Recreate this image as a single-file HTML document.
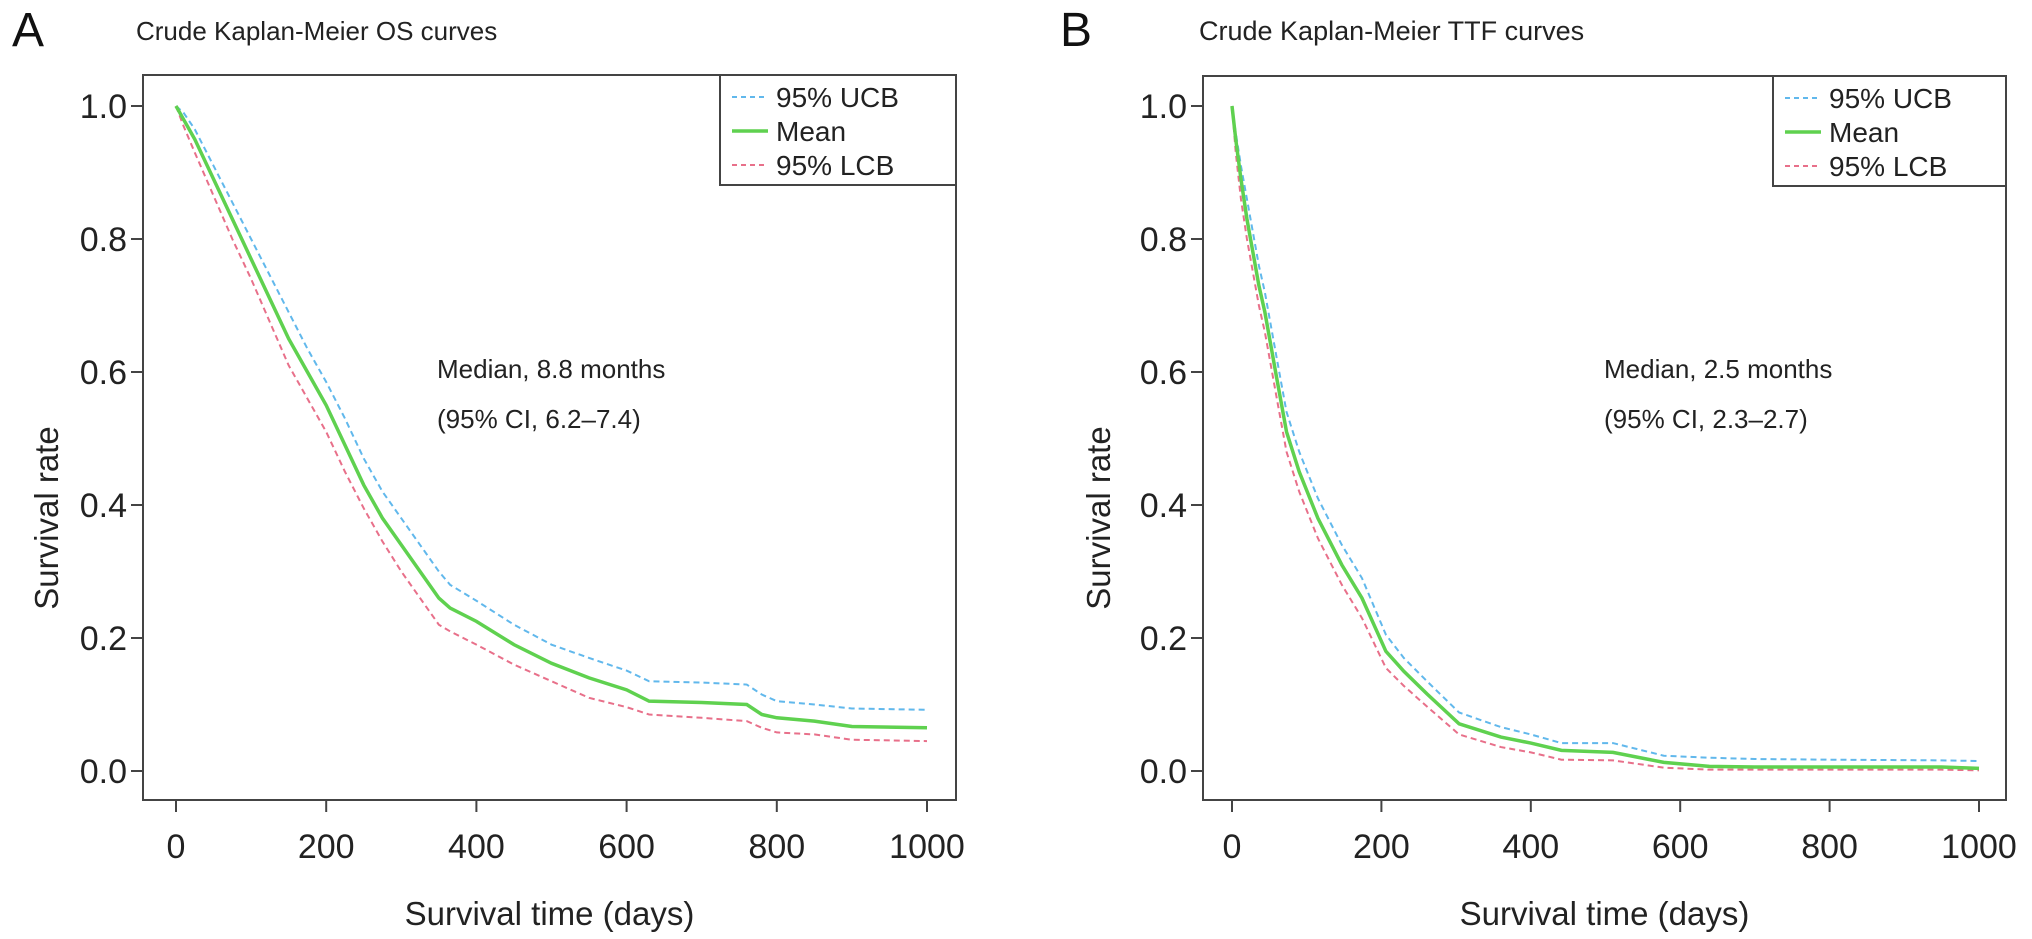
<!DOCTYPE html>
<html><head><meta charset="utf-8"><style>
html,body{margin:0;padding:0;background:#fff;}
svg{display:block;font-family:"Liberation Sans",Arial,sans-serif;}
</style></head><body>
<svg id="fig" width="2032" height="939" viewBox="0 0 2032 939"></svg>
<script>
// Panel A data (days, survival)
const daysA = [0,10,25,50,75,100,125,150,175,200,225,250,275,300,325,350,365,400,450,500,550,600,630,700,760,780,800,850,900,1000];
const meanA = [1,0.98,0.95,0.89,0.83,0.77,0.71,0.65,0.60,0.55,0.49,0.43,0.38,0.34,0.30,0.26,0.245,0.225,0.19,0.162,0.14,0.122,0.105,0.103,0.10,0.085,0.08,0.075,0.067,0.065];
const ucbA = [1,0.99,0.965,0.91,0.855,0.80,0.745,0.69,0.635,0.585,0.53,0.47,0.42,0.38,0.34,0.30,0.28,0.256,0.22,0.19,0.17,0.151,0.135,0.133,0.13,0.115,0.105,0.10,0.094,0.092];
const lcbA = [1,0.97,0.93,0.865,0.80,0.74,0.675,0.61,0.56,0.51,0.45,0.395,0.345,0.30,0.26,0.22,0.21,0.19,0.16,0.135,0.11,0.096,0.085,0.08,0.075,0.065,0.058,0.055,0.047,0.045];
// Panel B data
const daysB = [0,5,12,20,28,36,44,52,60,73,90,115,147,174,206,230,261,304,360,400,441,510,578,639,700,800,950,1000];
const meanB = [1,0.95,0.89,0.83,0.78,0.73,0.69,0.64,0.59,0.51,0.45,0.38,0.31,0.26,0.18,0.15,0.116,0.071,0.051,0.042,0.031,0.028,0.013,0.007,0.006,0.006,0.006,0.004];
const ucbB = [1,0.96,0.91,0.86,0.81,0.76,0.72,0.67,0.62,0.54,0.48,0.41,0.34,0.29,0.205,0.17,0.135,0.088,0.066,0.055,0.042,0.042,0.023,0.02,0.018,0.017,0.016,0.015];
const lcbB = [1,0.93,0.86,0.80,0.75,0.70,0.66,0.61,0.56,0.48,0.42,0.35,0.28,0.23,0.155,0.128,0.097,0.055,0.036,0.028,0.017,0.016,0.005,0.002,0.002,0.002,0.002,0.001];
const xTicks = [0,200,400,600,800,1000];
const yTicks = [0,0.2,0.4,0.6,0.8,1.0];
const yTickLabels = ["0.0","0.2","0.4","0.6","0.8","1.0"];
const legendLabels = ["95% UCB","Mean","95% LCB"];

const NS="http://www.w3.org/2000/svg";
const svg=document.getElementById('fig');
function mk(tag,attrs,parent,text){const e=document.createElementNS(NS,tag);for(const k in attrs)e.setAttribute(k,attrs[k]);if(text!==undefined)e.textContent=text;(parent||svg).appendChild(e);return e;}

const C_U="#61b8ec", C_M="#5fd14f", C_L="#e8708a";

function panel(p){
  const g=mk('g',{});
  
  
  const sx=d=>p.x0+(d/1000)*(p.x1-p.x0);
  const sy=v=>p.y0+v*(p.y1-p.y0);
  const lbl=mk('text',{x:p.lx,y:46,'font-size':48,fill:'#111'},g,p.id);
  
  
  const t=mk('text',{x:p.tx,y:40,'font-size':p.tfs,fill:'#222'},g,p.title);
  
  
  const box=mk('rect',{x:p.bl,y:p.bt,width:p.br-p.bl,height:p.bb-p.bt,fill:'none',stroke:'#444','stroke-width':2},g);
  
  
  const xa=mk('g',{},g);
  
  
  mk('line',{x1:sx(xTicks[0]),x2:sx(xTicks[xTicks.length-1]),y1:p.bb,y2:p.bb,stroke:'#444','stroke-width':2},xa);
  xTicks.forEach(v=>{
    mk('line',{x1:sx(v),x2:sx(v),y1:p.bb,y2:p.bb+12,stroke:'#444','stroke-width':2},xa);
    const tl=mk('text',{x:sx(v),y:p.bb+58,'font-size':34,'text-anchor':'middle',fill:'#222'},xa,String(v));
    
    
  });
  const xt=mk('text',{x:(p.bl+p.br)/2,y:925,'font-size':33,'text-anchor':'middle',fill:'#222'},g,'Survival time (days)');
  
  
  const ya=mk('g',{},g);
  
  
  yTicks.forEach((v,i)=>{
    mk('line',{x1:p.bl,x2:p.bl-12,y1:sy(v),y2:sy(v),stroke:'#444','stroke-width':2},ya);
    const tl=mk('text',{x:p.bl-16,y:sy(v)+12,'font-size':34,'text-anchor':'end',fill:'#222'},ya,yTickLabels[i]);
    
    
  });
  const yc=518;
  const yt=mk('text',{x:p.ylx,y:yc,'font-size':33,'text-anchor':'middle',fill:'#222',transform:`rotate(-90 ${p.ylx} ${yc})`},g,'Survival rate');
  
  
  function line(days,vals){return days.map((d,i)=>(i?'L':'M')+sx(d)+','+sy(vals[i])).join(' ');}
  const cu=mk('path',{d:line(p.days,p.ucb),fill:'none',stroke:C_U,'stroke-width':2,'stroke-dasharray':'6 4'},g);
  
  
  const cl=mk('path',{d:line(p.days,p.lcb),fill:'none',stroke:C_L,'stroke-width':2,'stroke-dasharray':'6 4'},g);
  
  
  const cm=mk('path',{d:line(p.days,p.mean),fill:'none',stroke:C_M,'stroke-width':3.5},g);
  
  
  const a1=mk('text',{x:p.ax,y:378,'font-size':26,fill:'#222'},g,p.med1);
  
  
  const a2=mk('text',{x:p.ax,y:428,'font-size':26,fill:'#222'},g,p.med2);
  
  
  const lg=mk('g',{},g);
  
  
  mk('rect',{x:p.lgx,y:p.bt,width:p.br-p.lgx,height:110,fill:'#fff',stroke:'#444','stroke-width':2},lg);
  const cols=[C_U,C_M,C_L];
  legendLabels.forEach((s,i)=>{
    const yy=p.bt+22+i*34;
    const e=mk('g',{},lg);
    
    
    mk('line',{x1:p.lgx+12,x2:p.lgx+48,y1:yy,y2:yy,stroke:cols[i],'stroke-width':i==1?3.5:2,'stroke-dasharray':i==1?'none':'5 4'},e);
    mk('text',{x:p.lgx+56,y:yy+10,'font-size':28,fill:'#222'},e,s);
  });
}
panel({id:'A',lx:12,tx:136,tfs:26,title:'Crude Kaplan-Meier OS curves',bl:143,br:956,bt:75,bb:800,x0:176,x1:927,y0:771,y1:106,ylx:58,ax:437,med1:'Median, 8.8 months',med2:'(95% CI, 6.2–7.4)',lgx:720,days:daysA,mean:meanA,ucb:ucbA,lcb:lcbA});
panel({id:'B',lx:1060,tx:1199,tfs:27,title:'Crude Kaplan-Meier TTF curves',bl:1203,br:2006,bt:76,bb:800,x0:1232,x1:1979,y0:771,y1:106,ylx:1110,ax:1604,med1:'Median, 2.5 months',med2:'(95% CI, 2.3–2.7)',lgx:1773,days:daysB,mean:meanB,ucb:ucbB,lcb:lcbB});
</script>
</body></html>
